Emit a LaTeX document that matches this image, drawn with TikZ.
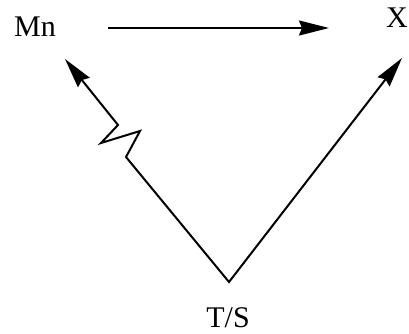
\documentclass[tikz,border=0pt]{standalone}
\usepackage{fontspec}
\setmainfont{Liberation Serif}
\usetikzlibrary{arrows.meta,positioning}

\begin{document}
\begin{tikzpicture}[
    x=1pt, y=-1pt,
    lbl/.style={font=\fontsize{30}{36}\selectfont, inner sep=0pt},
    conn/.style={line width=2pt, line join=miter,
        -{Stealth[length=30pt,width=15pt,inset=3pt]}}
]
\useasboundingbox (0,0) rectangle (409,333);

% Species
\node[lbl] (mn) at (35,27) {Mn};
\node[lbl] (x) at (397,18) {X};
\node[lbl] (ts) at (228,318) {T/S};

% Connector end points
\coordinate (mnr) at (108,28);
\coordinate (xl) at (329,28);
\coordinate (mnb) at (65,59);
\coordinate (xb) at (402,58);
\coordinate (v) at (229,282);

% Mn to X
\draw[conn] (mnr) -- (xl);

% T/S to Mn (with zigzag) and to X
\draw[conn, {Stealth[length=30pt,width=15pt,inset=3pt]}-{Stealth[length=30pt,width=15pt,inset=3pt]}]
    (mnb) -- (118,125) -- (101,143) -- (140,131) -- (126,157) -- (v) -- (xb);

\end{tikzpicture}
\end{document}
